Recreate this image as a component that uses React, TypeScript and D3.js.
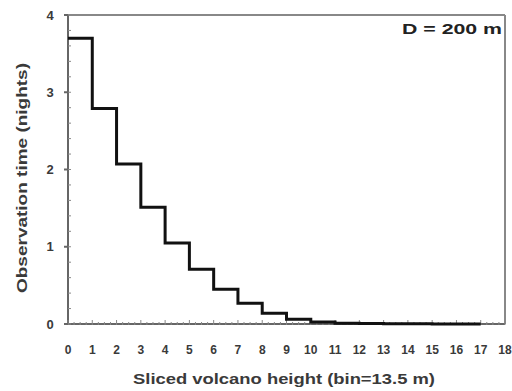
import React from "react";
import * as d3 from "d3";

const binStarts = [0, 1, 2, 3, 4, 5, 6, 7, 8, 9, 10, 11, 12, 13, 14, 15, 16];
const obsTime = [3.7, 2.79, 2.07, 1.51, 1.05, 0.71, 0.45, 0.27, 0.14, 0.06, 0.025, 0.01, 0.005, 0.003, 0.002, 0.001, 0.001];
const xTicks = d3.range(0, 19);
const yTicks = [0, 1, 2, 3, 4];
const xTitle = "Sliced volcano height (bin=13.5 m)";
const yTitle = "Observation time (nights)";
const annotation = "D = 200 m";

const W = 512, H = 391;
const M = { left: 68, right: 7, top: 15, bottom: 67 };

export default function App() {
  const x = d3.scaleLinear().domain([0, 18]).range([M.left, W - M.right]);
  const y = d3.scaleLinear().domain([0, 4]).range([H - M.bottom, M.top]);
  const pts: [number, number][] = binStarts.map((b, i) => [b, obsTime[i]]);
  pts.push([binStarts[binStarts.length - 1] + 1, obsTime[obsTime.length - 1]]);
  const line = d3.line<[number, number]>().x(d => x(d[0])).y(d => y(d[1])).curve(d3.curveStepAfter);
  const xMinor = d3.range(0, 18.01, 0.25);
  const yMinor = d3.range(0, 4.01, 0.2);
  const font = "Arial, 'Liberation Sans', sans-serif";
  const txt = "#3a3a3a";
  return (
    <svg width={W} height={H} style={{ position: "absolute", left: 0, top: 0, background: "#fff" }} fontFamily={font}>
      <rect x={0} y={0} width={W} height={H} fill="#fff" />
      {/* frame */}
      <line x1={x(0)} x2={x(18)} y1={y(4)} y2={y(4)} stroke="#888" strokeWidth={2} />
      <line x1={x(18)} x2={x(18)} y1={y(4)} y2={y(0)} stroke="#888" strokeWidth={2} />
      <line x1={x(0)} x2={x(0)} y1={y(4)} y2={y(0)} stroke="#666" strokeWidth={2} />
      <line x1={x(0)} x2={x(18)} y1={y(0)} y2={y(0)} stroke="#666" strokeWidth={2} />
      {xMinor.map((v, i) => (
        <line key={"xm" + i} x1={x(v)} x2={x(v)} y1={y(0) + 1} y2={y(0) - (Number.isInteger(v) ? 4 : 2)} stroke="#888" strokeWidth={1} />
      ))}
      {yMinor.map((v, i) => (
        <line key={"ym" + i} x1={x(0)} x2={x(0) + 3} y1={y(v)} y2={y(v)} stroke="#888" strokeWidth={1} />
      ))}
      {yTicks.map(t => (
        <line key={"yt" + t} x1={x(0) - 4} x2={x(0)} y1={y(t)} y2={y(t)} stroke="#666" strokeWidth={2} />
      ))}
      <path d={line(pts) || ""} fill="none" stroke="#111" strokeWidth={3} strokeLinejoin="miter" />
      {xTicks.map(t => (
        <text key={"xl" + t} x={x(t)} y={354} textAnchor="middle" fontSize={12} fontWeight="bold" fill={txt}>{t}</text>
      ))}
      {yTicks.map(t => (
        <text key={"yl" + t} x={50} y={y(t) + 4.5} textAnchor="middle" fontSize={13} fontWeight="bold" fill={txt}>{t}</text>
      ))}
      <text x={133} y={384} textLength={302} lengthAdjust="spacingAndGlyphs" fontSize={15} fontWeight="bold" fill={txt}>{xTitle}</text>
      <text transform={`translate(27, 293) rotate(-90)`} textLength={230} lengthAdjust="spacingAndGlyphs" fontSize={15} fontWeight="bold" fill={txt}>{yTitle}</text>
      <text x={402} y={34} textLength={100} lengthAdjust="spacingAndGlyphs" fontSize={14} fontWeight="bold" fill="#222">{annotation}</text>
    </svg>
  );
}
